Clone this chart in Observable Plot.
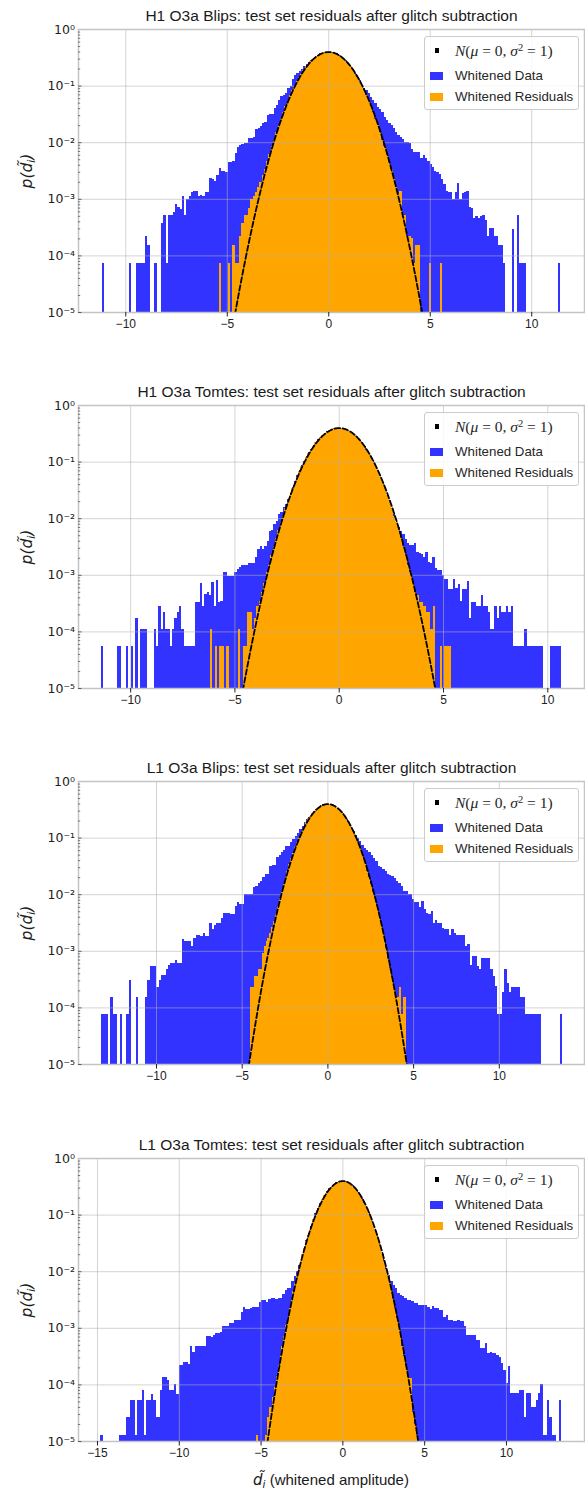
<!DOCTYPE html>
<html>
<head>
<meta charset="utf-8">
<script src="https://cdn.jsdelivr.net/npm/d3@7"></script>
<script src="https://cdn.jsdelivr.net/npm/@observablehq/plot@0.6"></script>
<style>
  body { margin: 0; background: #fff; }
  .panel { position: relative; width: 585px; }
  .panel svg { display: block; }
  .legend {
    position: absolute; left: 424px; top: 35.5px; width: 155px; height: 74px;
    box-sizing: border-box; border: 1px solid #cccccc; border-radius: 3px;
    background: rgba(255,255,255,0.85);
    font-family: "Liberation Sans", Arial, sans-serif; font-size: 13.3px; color: #262626;
  }
  .legend .sw { position: absolute; }
  .legend .lab { position: absolute; left: 30px; white-space: nowrap; line-height: 1; }
  .legend .math { font-family: "Liberation Serif", "DejaVu Serif", serif; font-size: 15.5px; }
  .legend .math sup { font-size: 0.68em; vertical-align: 0.5em; line-height: 0; }
  .ylab {
    position: absolute; left: 27px; top: 170.5px; white-space: nowrap;
    transform: translate(-50%, -50%) rotate(-90deg);
    font-family: "DejaVu Sans", sans-serif; font-style: italic; font-size: 15.5px; color: #1a1a1a;
  }
  .ylab sub, .xlab sub { font-size: 0.7em; vertical-align: -0.25em; line-height: 0; }
  .xlab {
    position: absolute; left: 331px; top: 342px; transform: translateX(-50%); white-space: nowrap;
    font-family: "Liberation Sans", Arial, sans-serif; font-size: 15px; color: #1a1a1a;
  }
  .xlab i { font-family: "DejaVu Sans", sans-serif; }
</style>
</head>
<body>
<div id="chart"></div>
<script>
// Panel titles
const titles = [
  "H1 O3a Blips: test set residuals after glitch subtraction",
  "H1 O3a Tomtes: test set residuals after glitch subtraction",
  "L1 O3a Blips: test set residuals after glitch subtraction",
  "L1 O3a Tomtes: test set residuals after glitch subtraction"
];

// Reference normal distribution N(mu, sigma^2)
const MU = 0, SIGMA = 1;

// Bin layout of each histogram: first left edge and bin width
const dataBinStart = [-11.17, -11.41, -13.2, -14.8];
const dataBinWidth = [0.113, 0.1104, 0.1344, 0.1408];
const residBinStart = [-5.389, -6.1667, -4.5, -5.278];
const residBinWidth = [0.1111, 0.1111, 0.1111, 0.1111];

// x-axis extents and tick values
const xDomains = [[-12.33, 12.6], [-12.5, 11.76], [-14.55, 14.97], [-16.16, 14.77]];
const xTickValues = [
  [-10, -5, 0, 5, 10],
  [-10, -5, 0, 5, 10],
  [-10, -5, 0, 5, 10],
  [-15, -10, -5, 0, 5, 10]
];
const yTickValues = [1e-5, 1e-4, 1e-3, 1e-2, 1e-1, 1];

// Densities p(d) per bin: whitened data (blue) and whitened residuals (orange)
const h1BlipsData = [
  7.3e-5, 0, 0, 0, 0, 0, 0, 0, 0, 0,
  0, 0, 7.3e-5, 0, 0, 7.3e-5, 7.3e-5, 7.3e-5, 7.3e-5, 2.2e-4,
  1.5e-4, 0, 0, 7.3e-5, 0, 0, 3.7e-4, 5.1e-4, 7.3e-5, 5.1e-4,
  5.1e-4, 5.8e-4, 8.1e-4, 7.3e-4, 6.6e-4, 1.1e-3, 5.1e-4, 1.0e-3, 1.1e-3, 1.3e-3,
  1.4e-3, 1.4e-3, 1.1e-3, 1.15e-3, 1.1e-3, 1.3e-3, 1.3e-3, 2.3e-3, 2.2e-3, 2.1e-3,
  2.6e-3, 3.5e-3, 3.1e-3, 3.1e-3, 3.0e-3, 4.5e-3, 4.5e-3, 4.6e-3, 6.5e-3, 8.3e-3,
  9.1e-3, 9.3e-3, 9.5e-3, 9.7e-3, 0.012, 0.012, 0.0125, 0.017, 0.0175, 0.0195,
  0.022, 0.023, 0.030, 0.031, 0.032, 0.040, 0.046, 0.055, 0.065, 0.069,
  0.073, 0.090, 0.10, 0.13, 0.155, 0.165, 0.18, 0.20, 0.22, 0.24,
  0.26, 0.28, 0.31, 0.33, 0.35, 0.37, 0.38, 0.39, 0.40, 0.40,
  0.39, 0.38, 0.37, 0.35, 0.33, 0.30, 0.28, 0.25, 0.22, 0.20,
  0.17, 0.15, 0.125, 0.102, 0.089, 0.083, 0.073, 0.064, 0.056, 0.049,
  0.042, 0.039, 0.034, 0.028, 0.025, 0.022, 0.020, 0.0175, 0.0153, 0.0134,
  0.0125, 0.0114, 0.0099, 0.0099, 0.0095, 0.0076, 0.0068, 0.0066, 0.0068, 0.0053,
  0.0060, 0.0053, 0.0047, 0.0041, 0.0037, 0.0031, 0.0030, 0.0027, 0.0022, 0.0018,
  0.0014, 0.00134, 0.0013, 0.0010, 0.00134, 0.0019, 0.0010, 0.00125, 0.0013, 0.0014,
  7.2e-4, 6.8e-4, 4.5e-4, 5.0e-4, 4.5e-4, 5.0e-4, 5.1e-4, 4.2e-4, 2.2e-4, 3.1e-4,
  3.1e-4, 2.2e-4, 2.2e-4, 1.5e-4, 1.5e-4, 7.3e-5, 0, 0, 0, 2.9e-4,
  0, 5.1e-4, 7.3e-5, 7.3e-5, 7.3e-5, 0, 0, 0, 0, 0,
  0, 0, 0, 0, 0, 0, 0, 0, 0, 7.3e-5
];
const h1BlipsResid = [
  7.3e-5, 0, 0, 0, 7.3e-5, 0, 1.5e-4, 7.3e-5, 7.3e-5, 2.2e-4,
  3.7e-4, 5.1e-4, 5.1e-4, 7.0e-4, 1.0e-3, 1.1e-3, 1.3e-3, 1.6e-3, 2.0e-3, 2.6e-3, 3.4e-3, 4.6e-3,
  0.0062, 0.0084, 0.011, 0.015, 0.020, 0.026, 0.034, 0.043, 0.054, 0.067,
  0.082, 0.10, 0.12, 0.14, 0.16, 0.19, 0.22, 0.24, 0.27, 0.29,
  0.32, 0.34, 0.36, 0.38, 0.39, 0.40, 0.40, 0.40, 0.39, 0.38,
  0.36, 0.34, 0.32, 0.29, 0.27, 0.24, 0.22, 0.19, 0.16, 0.14,
  0.12, 0.10, 0.082, 0.067, 0.054, 0.043, 0.034, 0.026, 0.020, 0.015,
  0.011, 0.0084, 0.0062,
  0.0045, 0.0033, 0.0023, 0.0016, 0.0012, 0.0014, 5.1e-4, 5.1e-4, 2.2e-4, 2.2e-4, 2.0e-4, 7.3e-5,
  1.5e-4, 1.5e-4, 0, 0, 0, 0, 7.3e-5, 0, 0, 0, 0, 7.3e-5
];

const h1TomtesData = [
  5.5e-5, 0, 0, 0, 0, 0, 0, 5.5e-5, 5.5e-5, 0,
  0, 5.5e-5, 0, 5.5e-5, 0, 1.7e-4, 0, 1.1e-4, 1.1e-4, 1.1e-4,
  0, 0, 0, 1.1e-4, 5.5e-5, 2.8e-4, 1.1e-4, 2.2e-4, 1.1e-4, 1.1e-4,
  5.5e-5, 1.1e-4, 1.7e-4, 2.2e-4, 2.8e-4, 1.1e-4, 5.5e-5, 5.5e-5, 5.5e-5, 5.5e-5,
  5.5e-5, 3.3e-4, 3.3e-4, 7.1e-4, 2.8e-4, 4.5e-4, 5.0e-4, 4.4e-4, 7.4e-4, 2.8e-4,
  8.0e-4, 3.3e-4, 3.5e-4, 1.1e-3, 1.1e-3, 9.5e-4, 9.5e-4, 9.5e-4, 1.1e-3, 1.25e-3,
  1.4e-3, 1.5e-3, 1.5e-3, 1.5e-3, 1.6e-3, 1.6e-3, 1.6e-3, 2.1e-3, 2.9e-3, 3.2e-3,
  2.9e-3, 3.2e-3, 3.9e-3, 6.0e-3, 6.3e-3, 8.0e-3, 8.8e-3, 0.012, 0.013, 0.016,
  0.018, 0.022, 0.028, 0.036, 0.046, 0.057, 0.071, 0.086, 0.104, 0.124,
  0.146, 0.169, 0.195, 0.221, 0.247, 0.274, 0.300, 0.324, 0.346, 0.364,
  0.380, 0.391, 0.397, 0.398, 0.396, 0.388, 0.376, 0.359, 0.339, 0.317,
  0.292, 0.266, 0.240, 0.213, 0.187, 0.162, 0.139, 0.118, 0.099, 0.081,
  0.066, 0.054, 0.043, 0.034, 0.026, 0.020, 0.015, 0.012, 0.0085, 0.0070,
  0.0060, 0.0052, 0.0043, 0.0037, 0.0033, 0.0033, 0.0037, 0.0025, 0.0024, 0.0023,
  0.0021, 0.0025, 0.0017, 0.0016, 0.0021, 0.0013, 0.0012, 0.0012, 9.9e-4, 8.6e-4,
  8.6e-4, 5.6e-4, 5.6e-4, 8.6e-4, 5.8e-4, 6.9e-4, 3.4e-4, 5.6e-4, 5.6e-4, 7.8e-4,
  1.7e-4, 3.3e-4, 3.3e-4, 2.8e-4, 2.8e-4, 4.4e-4, 2.8e-4, 2.8e-4, 2.2e-4, 1.1e-4,
  1.1e-4, 2.8e-4, 1.7e-4, 2.8e-4, 2.2e-4, 2.2e-4, 2.8e-4, 2.2e-4, 2.8e-4, 5.5e-5,
  5.5e-5, 5.5e-5, 5.5e-5, 5.5e-5, 1.1e-4, 5.5e-5, 5.5e-5, 5.5e-5, 5.5e-5, 5.5e-5,
  5.5e-5, 5.5e-5, 0, 0, 0, 5.5e-5, 5.5e-5, 5.5e-5, 5.5e-5, 5.5e-5
];
const h1TomtesResid = [
  1.1e-4, 0, 5.5e-5, 0, 5.5e-5, 5.5e-5, 0, 5.5e-5, 0, 0,
  0, 0, 1.1e-4, 0, 5.5e-5, 5.5e-5, 2.2e-4, 2.2e-4, 1.1e-4, 1.7e-4,
  2.8e-4, 3.5e-4, 5.0e-4, 7.2e-4, 1.1e-3, 1.5e-3, 2.2e-3, 3.2e-3, 4.4e-3,
  0.0062, 0.0084, 0.011, 0.015, 0.020, 0.026, 0.034, 0.043, 0.054, 0.067,
  0.082, 0.10, 0.12, 0.14, 0.16, 0.19, 0.22, 0.24, 0.27, 0.29,
  0.32, 0.34, 0.36, 0.38, 0.39, 0.40, 0.40, 0.40, 0.39, 0.38,
  0.36, 0.34, 0.32, 0.29, 0.27, 0.24, 0.22, 0.19, 0.16, 0.14,
  0.12, 0.10, 0.082, 0.067, 0.054, 0.043, 0.034, 0.026, 0.020, 0.015,
  0.011, 0.0084, 0.0062,
  0.0044, 0.0032, 0.0022, 0.0015, 0.0011, 7.2e-4, 5.0e-4, 4.4e-4, 3.3e-4, 3.3e-4, 2.8e-4,
  2.2e-4, 2.2e-4, 1.1e-4, 2.8e-4, 0, 0, 5.5e-5, 0, 5.5e-5, 5.5e-5, 5.5e-5
];

const l1BlipsData = [
  7.6e-5, 7.6e-5, 7.6e-5, 0, 1.5e-4, 7.6e-5, 7.6e-5, 0, 7.6e-5, 0,
  0, 7.6e-5, 3.0e-4, 0, 0, 1.5e-4, 0, 0, 0, 1.5e-4,
  3.0e-4, 5.4e-4, 5.4e-4, 5.4e-4, 2.3e-4, 3.0e-4, 3.8e-4, 3.8e-4, 4.7e-4, 5.5e-4,
  6.1e-4, 6.1e-4, 7.0e-4, 6.1e-4, 6.1e-4, 1.6e-3, 1.5e-3, 1.5e-3, 1.5e-3, 1.2e-3,
  1.7e-3, 1.9e-3, 1.9e-3, 1.8e-3, 2.1e-3, 1.8e-3, 1.8e-3, 3.1e-3, 2.4e-3, 2.8e-3,
  3.1e-3, 3.1e-3, 3.8e-3, 4.7e-3, 4.6e-3, 4.6e-3, 4.5e-3, 4.5e-3, 6.3e-3, 7.2e-3,
  6.6e-3, 6.8e-3, 9.9e-3, 9.9e-3, 9.9e-3, 0.010, 0.0135, 0.014, 0.016, 0.017,
  0.020, 0.023, 0.023, 0.031, 0.033, 0.033, 0.045, 0.050, 0.055, 0.061,
  0.070, 0.072, 0.084, 0.095, 0.106, 0.121, 0.14, 0.16, 0.185, 0.21,
  0.233, 0.265, 0.297, 0.326, 0.352, 0.373, 0.388, 0.397, 0.399, 0.393,
  0.381, 0.362, 0.338, 0.310, 0.279, 0.247, 0.215, 0.183, 0.155, 0.13,
  0.11, 0.099, 0.086, 0.075, 0.066, 0.060, 0.055, 0.050, 0.044, 0.038,
  0.032, 0.030, 0.028, 0.0255, 0.023, 0.0214, 0.021, 0.019, 0.017, 0.016,
  0.0138, 0.0113, 0.0113, 0.0099, 0.0099, 0.0083, 0.0072, 0.0072, 0.0059, 0.0075,
  0.0055, 0.0047, 0.0045, 0.0050, 0.0031, 0.0035, 0.0031, 0.0031, 0.0025, 0.0024,
  0.0024, 0.0019, 0.0024, 0.0021, 0.0019, 0.0019, 0.0019, 0.0019, 0.0012, 0.0013,
  5.7e-4, 8.0e-4, 8.0e-4, 5.4e-4, 4.7e-4, 7.5e-4, 7.5e-4, 7.5e-4, 7.5e-4, 4.8e-4,
  3.6e-4, 2.4e-4, 7.6e-5, 7.6e-5, 1.9e-4, 4.7e-4, 2.7e-4, 1.9e-4, 2.3e-4, 2.3e-4,
  2.3e-4, 2.3e-4, 1.5e-4, 1.5e-4, 7.6e-5, 7.6e-5, 7.6e-5, 7.6e-5, 7.6e-5, 7.6e-5,
  7.6e-5, 0, 0, 0, 0, 0, 0, 0, 0, 7.6e-5
];
const l1BlipsResid = [
  2.3e-4, 2.3e-4, 3.6e-4, 3.6e-4, 4.7e-4, 4.7e-4, 9.0e-4, 1.2e-3, 1.5e-3, 1.7e-3, 2.1e-3, 2.6e-3, 3.4e-3, 4.5e-3,
  0.0062, 0.0084, 0.011, 0.015, 0.020, 0.026, 0.034, 0.043, 0.054, 0.067,
  0.082, 0.10, 0.12, 0.14, 0.16, 0.19, 0.22, 0.24, 0.27, 0.29,
  0.32, 0.34, 0.36, 0.38, 0.39, 0.40, 0.40, 0.40, 0.39, 0.38,
  0.36, 0.34, 0.32, 0.29, 0.27, 0.24, 0.22, 0.19, 0.16, 0.14,
  0.12, 0.10, 0.082, 0.067, 0.054, 0.043, 0.034, 0.026, 0.020, 0.015,
  0.011, 0.0084, 0.0062,
  0.0044, 0.0032, 0.0022, 0.0015, 0.0011, 7.2e-4, 5.0e-4, 3.4e-4, 2.4e-4, 1.5e-4, 1.5e-4, 2.3e-4, 7.6e-5, 1.5e-4, 1.5e-4
];

const l1TomtesData = [
  1.3e-5, 0, 0, 0, 0, 0, 0, 0, 1.3e-5, 1.3e-5,
  1.3e-5, 2.7e-5, 2.7e-5, 5.3e-5, 5.3e-5, 1.3e-5, 5.3e-5, 5.3e-5, 8.0e-5, 1.3e-5,
  5.3e-5, 5.3e-5, 6.7e-5, 5.3e-5, 2.7e-5, 2.7e-5, 8.0e-5, 1.35e-4, 1.35e-4, 1.2e-4,
  8.0e-5, 8.0e-5, 1.0e-4, 6.7e-5, 2.2e-4, 2.2e-4, 2.45e-4, 2.45e-4, 2.3e-4, 4.8e-4,
  3.7e-4, 4.8e-4, 4.8e-4, 4.8e-4, 4.8e-4, 4.8e-4, 7.2e-4, 7.2e-4, 7.0e-4, 7.5e-4,
  8.0e-4, 8.0e-4, 8.4e-4, 1.06e-3, 1.06e-3, 1.06e-3, 1.2e-3, 1.2e-3, 1.35e-3, 1.35e-3,
  1.35e-3, 1.87e-3, 2.3e-3, 2.14e-3, 2.14e-3, 2.2e-3, 2.3e-3, 2.3e-3, 2.3e-3, 2.8e-3,
  3.1e-3, 3.1e-3, 2.9e-3, 3.25e-3, 3.3e-3, 3.3e-3, 3.25e-3, 3.3e-3, 3.3e-3, 4.0e-3,
  4.7e-3, 5.15e-3, 5.15e-3, 6.6e-3, 8.3e-3, 9.9e-3, 0.013, 0.0184, 0.026, 0.036,
  0.048, 0.064, 0.082, 0.105, 0.131, 0.160, 0.191, 0.225, 0.259, 0.292,
  0.323, 0.351, 0.373, 0.389, 0.398, 0.398, 0.391, 0.377, 0.356, 0.330,
  0.299, 0.266, 0.232, 0.199, 0.167, 0.137, 0.110, 0.087, 0.068, 0.051,
  0.038, 0.028, 0.020, 0.014, 0.0096, 0.0086, 0.0066, 0.0058, 0.0050, 0.0041,
  0.0038, 0.0036, 0.0033, 0.0031, 0.0031, 0.0030, 0.0027, 0.0027, 0.00255, 0.0025,
  0.0025, 0.0025, 0.0023, 0.00214, 0.0024, 0.0022, 0.0022, 0.0021, 0.0021, 0.00154,
  0.0017, 0.00138, 0.00138, 0.0013, 0.0013, 0.00138, 0.0013, 0.0013, 0.00106, 7.5e-4,
  7.5e-4, 7.5e-4, 7.5e-4, 6.0e-4, 6.0e-4, 4.4e-4, 4.4e-4, 5.4e-4, 3.6e-4, 3.8e-4,
  3.6e-4, 3.6e-4, 3.3e-4, 3.0e-4, 2.4e-4, 1.8e-4, 1.06e-4, 2.1e-4, 7.0e-5, 7.0e-5,
  7.0e-5, 7.0e-5, 8.0e-5, 8.0e-5, 2.7e-5, 7.0e-5, 7.0e-5, 4.0e-5, 4.0e-5, 5.3e-5,
  7.0e-5, 1.0e-4, 1.3e-5, 1.3e-5, 5.3e-5, 2.7e-5, 1.3e-5, 1.3e-5, 0, 5.3e-5
];
const l1TomtesResid = [
  1.3e-5, 0, 0, 0, 0, 1.3e-5, 2.7e-5, 4.0e-5, 4.0e-5, 6.0e-5, 9.0e-5,
  1.4e-4, 2.2e-4, 3.3e-4, 4.8e-4, 7.2e-4, 1.1e-3, 1.5e-3, 2.2e-3, 3.2e-3, 4.4e-3,
  0.0062, 0.0084, 0.011, 0.015, 0.020, 0.026, 0.034, 0.043, 0.054, 0.067,
  0.082, 0.10, 0.12, 0.14, 0.16, 0.19, 0.22, 0.24, 0.27, 0.29,
  0.32, 0.34, 0.36, 0.38, 0.39, 0.40, 0.40, 0.40, 0.39, 0.38,
  0.36, 0.34, 0.32, 0.29, 0.27, 0.24, 0.22, 0.19, 0.16, 0.14,
  0.12, 0.10, 0.082, 0.067, 0.054, 0.043, 0.034, 0.026, 0.020, 0.015,
  0.011, 0.0084, 0.0062,
  0.0044, 0.0032, 0.0022, 0.0015, 0.0011, 7.2e-4, 4.8e-4, 3.2e-4, 2.1e-4, 1.4e-4, 1.3e-4, 1.3e-4, 3.3e-5, 2.0e-5, 1.3e-5
];

const dataSeries = [h1BlipsData, h1TomtesData, l1BlipsData, l1TomtesData];
const residSeries = [h1BlipsResid, h1TomtesResid, l1BlipsResid, l1TomtesResid];

// ---- drawing ----
const BLUE = "#3333ff", ORANGE = "#ffa500";
const SANS = "'Liberation Sans', Arial, Helvetica, sans-serif";
const panelHeights = [376, 376, 377, 359];
const MARGIN_TOP = 29, PLOT_H = 283, MARGIN_LEFT = 78, MARGIN_RIGHT = 1, WIDTH = 585;

const normalPdf = x => Math.exp(-0.5 * ((x - MU) / SIGMA) ** 2) / (SIGMA * Math.sqrt(2 * Math.PI));

function toBins(start, width, values) {
  return values
    .map((p, i) => ({x1: start + i * width, x2: start + (i + 1) * width, p}))
    .filter(d => d.p > 0);
}

const supDigits = {"-": "\u207B", "0": "\u2070", "1": "\u00B9", "2": "\u00B2", "3": "\u00B3", "4": "\u2074", "5": "\u2075"};
const powerLabel = v => "10" + String(Math.round(Math.log10(v))).split("").map(c => supDigits[c]).join("");
const numLabel = v => (v < 0 ? "\u2212" : "") + Math.abs(v);

const minorTicks = [];
for (let e = -5; e < 0; e++) for (let m = 2; m < 10; m++) minorTicks.push(m * 10 ** e);

const root = document.getElementById("chart");

titles.forEach((title, k) => {
  const H = panelHeights[k];
  const dom = xDomains[k];
  const plotW = WIDTH - MARGIN_LEFT - MARGIN_RIGHT;
  const inward = px => dom[0] + (dom[1] - dom[0]) * px / plotW;
  const curveX = d3.range(-5.4, 5.4001, 0.02);

  const svg = Plot.plot({
    width: WIDTH,
    height: H,
    marginLeft: MARGIN_LEFT,
    marginRight: MARGIN_RIGHT,
    marginTop: MARGIN_TOP,
    marginBottom: H - MARGIN_TOP - PLOT_H,
    style: {fontFamily: SANS, background: "white", overflow: "visible"},
    x: {domain: dom},
    y: {type: "log", domain: [1e-5, 1]},
    marks: [
      Plot.rect(toBins(dataBinStart[k], dataBinWidth[k], dataSeries[k]),
        {x1: "x1", x2: "x2", y1: 1e-5, y2: "p", fill: BLUE, shapeRendering: "crispEdges"}),
      Plot.rect(toBins(residBinStart[k], residBinWidth[k], residSeries[k]),
        {x1: "x1", x2: "x2", y1: 1e-5, y2: "p", fill: ORANGE, shapeRendering: "crispEdges"}),
      Plot.gridX(xTickValues[k], {stroke: "#b0b0b0", strokeOpacity: 0.55, strokeWidth: 1}),
      Plot.gridY(yTickValues, {stroke: "#b0b0b0", strokeOpacity: 0.55, strokeWidth: 1}),
      Plot.line(curveX, {x: d => d, y: d => normalPdf(d), stroke: "black", strokeWidth: 1.8,
        strokeDasharray: "5.5,2.6", clip: true}),
      Plot.frame({stroke: "#c4c4c4", strokeWidth: 1.5}),
      Plot.ruleY(minorTicks, {x1: dom[0], x2: inward(2.2), stroke: "#444", strokeWidth: 0.7}),
      Plot.ruleY(yTickValues.slice(0, 5), {x1: dom[0], x2: inward(3.5), stroke: "#444", strokeWidth: 0.8}),
      Plot.axisX(xTickValues[k], {tickSize: 4.5, tickPadding: 2.5, fontSize: 12, fontFamily: SANS,
        color: "#222", tickFormat: numLabel, label: null}),
      Plot.axisY(yTickValues, {tickSize: 0, tickPadding: 3.5, fontSize: 12.5, fontFamily: "'DejaVu Sans', sans-serif",
        color: "#222", tickFormat: powerLabel, label: null}),
      Plot.text([title], {frameAnchor: "top", lineAnchor: "bottom", dy: -8.5, fontSize: 15.5,
        fontFamily: SANS, fill: "#1a1a1a"})
    ]
  });

  const panel = document.createElement("div");
  panel.className = "panel";
  panel.style.height = H + "px";
  panel.appendChild(svg);

  const ylab = document.createElement("div");
  ylab.className = "ylab";
  ylab.innerHTML = "p(d&#771;<sub>i</sub>)";
  panel.appendChild(ylab);

  const legend = document.createElement("div");
  legend.className = "legend";
  legend.innerHTML = `
    <div class="sw" style="left:10px;top:11.5px;width:4px;height:5px;background:#000"></div>
    <div class="lab math" style="top:6px"><i>N</i>(<i>\u03BC</i> = 0, <i>\u03C3</i><sup>2</sup> = 1)</div>
    <div class="sw" style="left:4.5px;top:35px;width:13px;height:8px;background:${BLUE}"></div>
    <div class="lab" style="top:32.5px">Whitened Data</div>
    <div class="sw" style="left:4.5px;top:56px;width:13px;height:8px;background:${ORANGE}"></div>
    <div class="lab" style="top:53.5px">Whitened Residuals</div>`;
  panel.appendChild(legend);

  if (k === titles.length - 1) {
    const xlab = document.createElement("div");
    xlab.className = "xlab";
    xlab.innerHTML = "<i>d&#771;<sub>i</sub></i> (whitened amplitude)";
    panel.appendChild(xlab);
  }

  root.appendChild(panel);
});
</script>
</body>
</html>
